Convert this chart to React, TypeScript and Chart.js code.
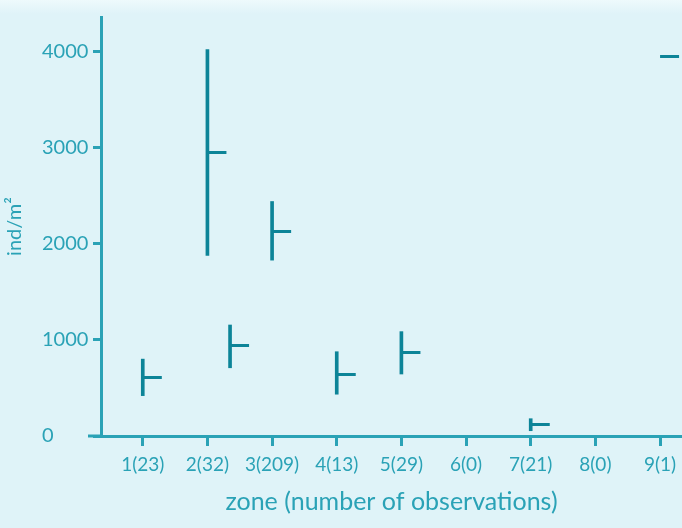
import React, { useEffect, useRef } from 'react';
import { Chart, registerables } from 'chart.js';

Chart.register(...registerables);

// ---- data ----
const zoneLabels = ['1(23)', '2(32)', '3(209)', '4(13)', '5(29)', '6(0)', '7(21)', '8(0)', '9(1)'];
// zone position of each mark (zone 2 has a second group drawn just right of it)
const markZone = [1, 2, 2.35, 3, 4, 5, 7, 9];
const rangeLow = [420, 1880, 710, 1830, 435, 645, 55, null];
const rangeHigh = [800, 4020, 1155, 2440, 877, 1086, 180, null];
const meanValue = [605, 2945, 937, 2127, 635, 871, 122, 3950];
const yTickValues = [0, 1000, 2000, 3000, 4000];
const xTitle = 'zone (number of observations)';
const yTitle = 'ind/m²';

const BG = '#dff3f8';
const AXIS = '#2aa2b6';
const MARK = '#0c8498';
const FONT = 'Lato, "Open Sans", sans-serif';

export default function App() {
  const ref = useRef<HTMLCanvasElement>(null);

  useEffect(() => {
    const dash = document.createElement('canvas');
    dash.width = 40;
    dash.height = 3;
    const dctx = dash.getContext('2d')!;
    dctx.fillStyle = MARK;
    dctx.fillRect(20, 0, 19, 3);

    const axisExtension = {
      id: 'axisExtension',
      afterDraw(chart: any) {
        const { ctx, chartArea, scales } = chart;
        const y = scales.y.getPixelForValue(0);
        ctx.save();
        ctx.strokeStyle = AXIS;
        ctx.lineWidth = 3;
        ctx.beginPath();
        ctx.moveTo(chartArea.left - 13, y);
        ctx.lineTo(chartArea.left, y);
        ctx.stroke();
        ctx.restore();
      },
    };

    const rangeData: any[] = [];
    markZone.forEach((x, i) => {
      if (rangeLow[i] != null && rangeHigh[i] != null) rangeData.push({ x, y: [rangeLow[i], rangeHigh[i]] });
    });
    const meanData = markZone.map((x, i) => ({ x, y: meanValue[i] }));

    const chart = new Chart(ref.current!, {
      type: 'bar',
      data: {
        datasets: [
          {
            type: 'bar',
            data: rangeData,
            backgroundColor: MARK,
            borderWidth: 0,
            barThickness: 3,
          } as any,
          {
            type: 'line',
            data: meanData,
            showLine: false,
            pointStyle: dash as any,
            pointRadius: 10,
          } as any,
        ],
      },
      options: {
        responsive: false,
        animation: false,
        devicePixelRatio: 1,
        layout: { autoPadding: false, padding: { top: 17, right: 0, left: 0, bottom: 0 } },
        plugins: { legend: { display: false }, tooltip: { enabled: false } },
        scales: {
          x: {
            type: 'linear',
            position: 'bottom',
            min: 0.354,
            max: 9.34,
            offset: false,
            afterBuildTicks: (s: any) => {
              s.ticks = zoneLabels.map((_, i) => ({ value: i + 1 }));
            },
            afterFit: (s: any) => {
              s.height = 92;
              s.paddingLeft = 0;
              s.paddingRight = 0;
            },
            ticks: {
              callback: (v: any) => zoneLabels[Math.round(Number(v)) - 1] ?? '',
              color: AXIS,
              font: { family: FONT, size: 19 },
              padding: 7,
              autoSkip: false,
              maxRotation: 0,
            },
            grid: {
              offset: false,
              drawOnChartArea: false,
              drawTicks: true,
              tickLength: 10,
              tickWidth: 3,
              tickColor: AXIS,
            },
            border: { color: AXIS, width: 3 },
            title: {
              display: true,
              text: xTitle,
              color: AXIS,
              font: { family: FONT, size: 25 },
              padding: { top: 0, bottom: 11 },
            },
          } as any,
          y: {
            type: 'linear',
            position: 'left',
            min: 0,
            max: 4360,
            afterBuildTicks: (s: any) => {
              s.ticks = yTickValues.map((v) => ({ value: v }));
            },
            afterFit: (s: any) => {
              s.width = 59;
            },
            ticks: {
              callback: (v: any) => String(v),
              color: AXIS,
              font: { family: FONT, size: 20 },
              crossAlign: 'far',
              padding: 4,
            },
            grid: {
              drawOnChartArea: false,
              tickLength: 8,
              tickWidth: 3,
              tickColor: AXIS,
            },
            border: { color: AXIS, width: 3 },
          } as any,
          yTitleAxis: {
            type: 'linear',
            position: 'left',
            weight: 10,
            afterFit: (s: any) => {
              s.width = 42;
            },
            ticks: { display: false },
            grid: { display: false, drawTicks: false },
            border: { display: false },
            title: {
              display: true,
              text: yTitle,
              color: AXIS,
              font: { family: FONT, size: 20 },
              padding: { top: 3, bottom: 0 },
            },
          } as any,
        },
      },
      plugins: [axisExtension],
    });
    return () => chart.destroy();
  }, []);

  return (
    <div
      style={{
        position: 'fixed',
        left: 0,
        top: 0,
        width: 682,
        height: 528,
        background: `linear-gradient(to bottom, #eefafc 0px, ${BG} 14px, ${BG} 100%)`,
      }}
    >
      <canvas ref={ref} width={682} height={528} style={{ display: 'block', width: 682, height: 528 }} />
    </div>
  );
}
